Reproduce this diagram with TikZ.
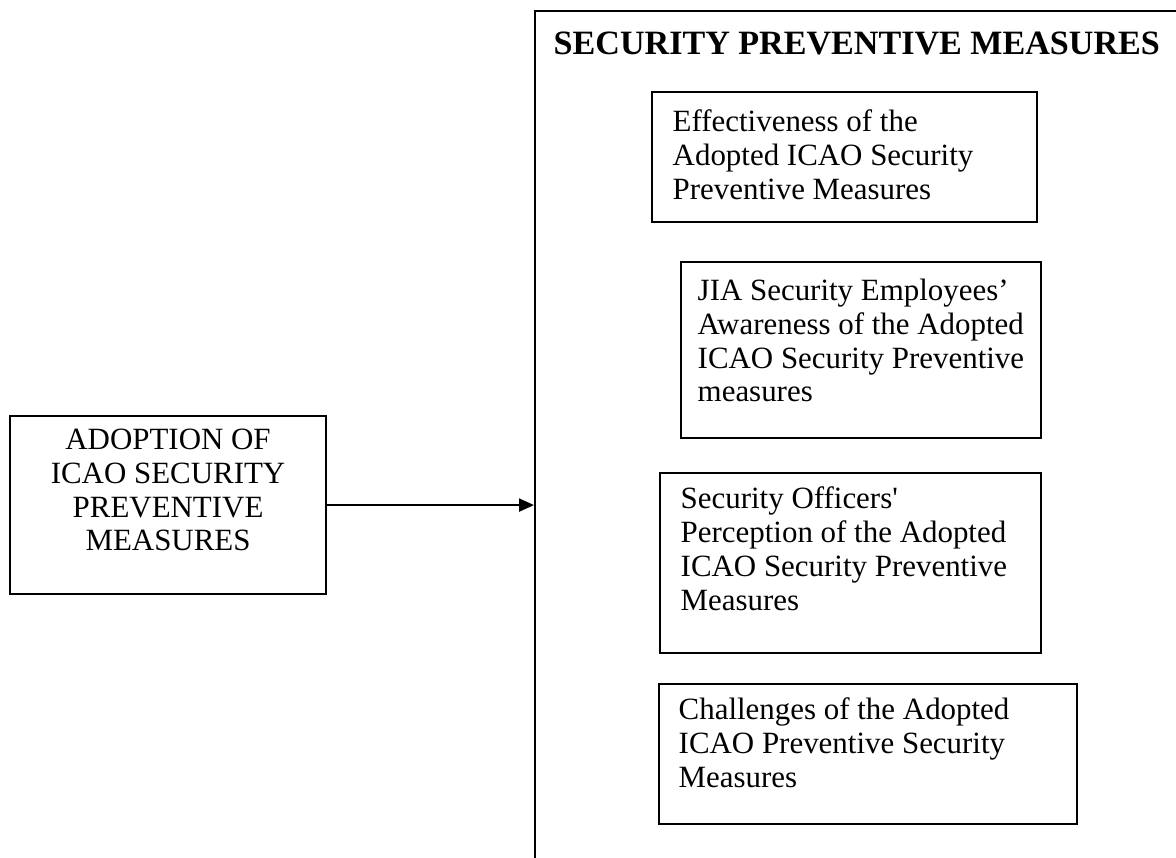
\documentclass[tikz,border=0pt]{standalone}
\usepackage{fontspec}
\setmainfont{Liberation Serif}
\usetikzlibrary{arrows.meta}
\usetikzlibrary{positioning}
\tikzset{
    every node/.style={font=\fontsize{8.8}{9.65}\selectfont},
    measure/.style={
        draw,
        rectangle,
        anchor=north west,
        line width=0.6pt,
        inner sep=0pt
    },
    itemtext/.style={
        align=left,
        inner sep=0pt
    },
    flow/.style={
        draw,
        -{Triangle[length=1.5mm, width=1.3mm]},
        line width=0.6pt
    }
}

\begin{document}
\begin{tikzpicture}
  \useasboundingbox (0,0) rectangle (11.76,-8.57);

  % outer frame, runs off the page on the right and at the bottom
  \node[measure, minimum width=8cm, minimum height=10cm] (frame) at (5.34,-0.10) {};
  \node[anchor=base west, inner sep=0pt, font=\fontsize{9.7}{11}\selectfont\bfseries] (title) at (5.53,-0.54)
    {SECURITY PREVENTIVE MEASURES};

  % independent variable
  \node[measure, minimum width=3.16cm, minimum height=1.78cm] (adopt) at (0.09,-4.15) {};
  \node[itemtext, align=center, below=1.3mm of adopt.north] (adopt text)
    {ADOPTION OF\\ICAO SECURITY\\PREVENTIVE\\MEASURES};

  % dependent variables
  \node[measure, minimum width=3.85cm, minimum height=1.30cm] (effect) at (6.51,-0.91) {};
  \node[itemtext, below right=1.8mm and 2.1mm of effect.north west] (effect text)
    {Effectiveness of the\\Adopted ICAO Security\\Preventive Measures};

  \node[measure, minimum width=3.60cm, minimum height=1.76cm] (aware) at (6.80,-2.61) {};
  \node[itemtext, below right=1.7mm and 1.7mm of aware.north west] (aware text)
    {JIA Security Employees'\\Awareness of the Adopted\\ICAO Security Preventive\\measures};

  \node[measure, minimum width=3.81cm, minimum height=1.80cm] (percept) at (6.59,-4.72) {};
  \node[itemtext, below right=1.4mm and 2.1mm of percept.north west] (percept text)
    {Security Officers\textquotesingle\\Perception of the Adopted\\ICAO Security Preventive\\Measures};

  \node[measure, minimum width=4.18cm, minimum height=1.40cm] (challenge) at (6.58,-6.83) {};
  \node[itemtext, below right=1.4mm and 2.0mm of challenge.north west] (challenge text)
    {Challenges of the Adopted\\ICAO Preventive Security\\Measures};

  \draw[flow] (adopt.east) -- (adopt.east -| frame.west);
\end{tikzpicture}
\end{document}
